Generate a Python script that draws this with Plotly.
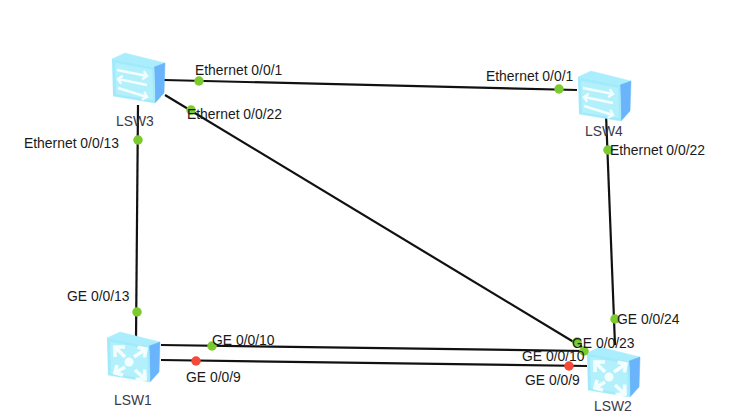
import plotly.graph_objects as go

# node anchors = top-left corner of the front face, in picture pixels
switch_names = ['LSW3', 'LSW4']
switch_x = [112, 578]
switch_y = [59, 77]
router_names = ['LSW1', 'LSW2']
router_x = [107, 587]
router_y = [338, 353]

# links
link_x0 = [164, 138, 165, 606, 161, 161]
link_y0 = [80, 105, 95, 114, 345, 360]
link_x1 = [577, 136, 582, 615, 585, 587]
link_y1 = [90, 340, 347, 345, 351, 366]

# port dots
green_x = [199, 191, 138, 559, 608, 137, 212, 577, 584, 615]
green_y = [81, 110, 140, 89, 150, 312, 346, 342, 351, 319]
red_x = [196, 569]
red_y = [361, 366]

# labels (left edge, middle)
label_text = ['Ethernet 0/0/1', 'Ethernet 0/0/22', 'Ethernet 0/0/13', 'Ethernet 0/0/1',
              'Ethernet 0/0/22', 'GE 0/0/13', 'GE 0/0/10', 'GE 0/0/9', 'GE 0/0/24',
              'GE 0/0/23', 'GE 0/0/10', 'GE 0/0/9']
label_x = [195, 187, 24, 486, 610, 67, 212, 186, 617, 572, 522, 525]
label_y = [72, 116, 145, 78, 152, 298, 342, 379, 321, 345, 358, 382]
name_text = ['LSW3', 'LSW4', 'LSW1', 'LSW2']
name_x = [116, 585, 114, 594]
name_y = [123, 133, 402, 408]

# icon templates, offsets from the anchor
top_dx = [0, 13, 53, 42]
top_dy = [0, -6, 4, 8]
front_dx = [0, 42, 43, 1]
front_dy = [0, 8, 44, 37]
inner_dx = [3, 40, 41, 4]
inner_dy = [4, 11, 41, 35]
side_dx = [42, 53, 52, 43]
side_dy = [8, 4, 34, 44]
switch_arrows = [((5, 11), (35, 17)), ((35, 26), (6, 20)), ((6, 29), (35, 38))]
router_arrows = [((18, 19), (8, 9)), ((27, 19), (39, 11)), ((18, 29), (8, 35)), ((28, 32), (38, 41))]

fig = go.Figure()


def poly(xs, ys, color):
    fig.add_trace(go.Scatter(x=xs, y=ys, mode='lines', fill='toself', fillcolor=color,
                             line=dict(color=color, width=0.5), hoverinfo='skip'))


def arrow(x, y, start, end, head=4, width=2.6):
    # shaft plus a small chevron at the end
    sx, sy = x + start[0], y + start[1]
    ex, ey = x + end[0], y + end[1]
    d = max(abs(ex - sx), abs(ey - sy))
    ux, uy = (ex - sx) / d, (ey - sy) / d
    xs = [sx, ex, None, ex - head * ux - head * uy, ex, ex - head * ux + head * uy]
    ys = [sy, ey, None, ey - head * uy + head * ux, ey, ey - head * uy - head * ux]
    fig.add_trace(go.Scatter(x=xs, y=ys, mode='lines', line=dict(color='#f4feff', width=width),
                             hoverinfo='skip'))


def body(x, y):
    poly([x + d for d in top_dx], [y + d for d in top_dy], '#aaeefd')
    poly([x + d for d in side_dx], [y + d for d in side_dy], '#69b4fb')
    poly([x + d for d in front_dx], [y + d for d in front_dy], '#a0eafb')
    poly([x + d for d in inner_dx], [y + d for d in inner_dy], '#b2f0fc')


# links go first so the icons sit on top of them
for x0, y0, x1, y1 in zip(link_x0, link_y0, link_x1, link_y1):
    fig.add_trace(go.Scatter(x=[x0, x1], y=[y0, y1], mode='lines',
                             line=dict(color='#111111', width=2.2), hoverinfo='skip'))

for x, y in zip(switch_x, switch_y):
    body(x, y)
    for a in switch_arrows:
        arrow(x, y, a[0], a[1], head=4, width=2.4)

for x, y in zip(router_x, router_y):
    body(x, y)
    for a in router_arrows:
        arrow(x, y, a[0], a[1], head=5, width=3.6)
    fig.add_trace(go.Scatter(x=[x + 22], y=[y + 24], mode='markers',
                             marker=dict(color='#f4feff', size=9), hoverinfo='skip'))

fig.add_trace(go.Scatter(x=green_x, y=green_y, mode='markers',
                         marker=dict(color='#7ccb2e', size=9.5), hoverinfo='skip'))
fig.add_trace(go.Scatter(x=red_x, y=red_y, mode='markers',
                         marker=dict(color='#f64a38', size=9.5), hoverinfo='skip'))

fig.add_trace(go.Scatter(x=label_x, y=label_y, text=label_text, mode='text',
                         textposition='middle right',
                         textfont=dict(family='Liberation Sans', size=13.9, color='#1a1a1a'),
                         hoverinfo='skip'))
fig.add_trace(go.Scatter(x=name_x, y=name_y, text=name_text, mode='text',
                         textposition='middle right',
                         textfont=dict(family='Liberation Sans', size=13.9, color='#3a3a4a'),
                         hoverinfo='skip'))

fig.update_layout(
    width=741,
    height=417,
    margin=dict(l=0, r=0, t=0, b=0),
    showlegend=False,
    paper_bgcolor='white',
    plot_bgcolor='white',
    xaxis=dict(range=[0, 741], visible=False, fixedrange=True),
    yaxis=dict(range=[417, 0], visible=False, fixedrange=True),
)

fig.write_html("out.html", config=dict(displayModeBar=False),
               post_script="document.body.style.margin='0';")
